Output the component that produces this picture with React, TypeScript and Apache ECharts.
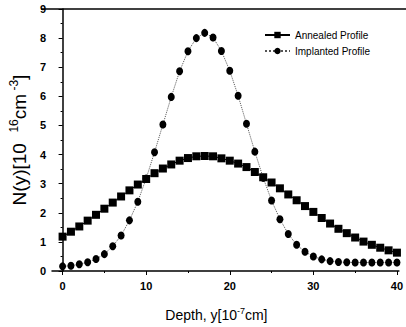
import React, { useEffect, useRef } from "react";
import * as echarts from "echarts";

const depths = [0,1,2,3,4,5,6,7,8,9,10,11,12,13,14,15,16,17,18,19,20,21,22,23,24,25,26,27,28,29,30,31,32,33,34,35,36,37,38,39,40];
const annealed = [1.18,1.35,1.53,1.73,1.93,2.14,2.35,2.56,2.77,2.97,3.16,3.36,3.52,3.66,3.79,3.88,3.94,3.95,3.94,3.87,3.79,3.69,3.57,3.4,3.22,3.04,2.84,2.63,2.43,2.23,2.03,1.82,1.63,1.45,1.3,1.15,1.01,0.9,0.8,0.71,0.63];
const implanted = [0.16,0.18,0.23,0.3,0.41,0.58,0.85,1.22,1.74,2.38,3.18,4.08,5.03,5.98,6.86,7.55,8.0,8.18,8.02,7.56,6.88,6.02,5.06,4.1,3.2,2.42,1.78,1.27,0.9,0.66,0.5,0.4,0.34,0.31,0.3,0.29,0.29,0.29,0.29,0.29,0.29];
const xMajorTicks = [0, 10, 20, 30, 40];
const xMinorTicks = [5, 15, 25, 35];
const seriesNames = ["Annealed Profile", "Implanted Profile"];

const FONT = "Liberation Sans, Arial, sans-serif";

export default function App() {
  const ref = useRef<HTMLDivElement>(null);
  useEffect(() => {
    if (!ref.current) return;
    const chart = echarts.init(ref.current, null, { renderer: "svg" });
    const xMin = -1.264;
    const xMax = 40.23;
    const tickLabel = { color: "#000", fontSize: 11, fontWeight: "bold", fontFamily: FONT };
    chart.setOption({
      animation: false,
      backgroundColor: "#fff",
      grid: { left: 41, right: 4, top: 9, bottom: 54 },
      legend: {
        orient: "vertical",
        left: 259,
        top: 25,
        itemWidth: 25,
        itemHeight: 8,
        itemGap: 6,
        textStyle: { fontSize: 10, color: "#000", fontFamily: FONT },
        data: seriesNames,
      },
      graphic: [
        {
          type: "line",
          shape: { x1: 41, y1: 9, x2: 406, y2: 9 },
          style: { stroke: "#000", lineWidth: 1.5 },
        },
      ],
      xAxis: [
        {
          type: "value",
          min: xMin,
          max: xMax,
          position: "bottom",
          axisLine: { show: true, onZero: false, lineStyle: { color: "#000", width: 1.5 } },
          axisTick: { show: true, customValues: xMajorTicks, length: 4, lineStyle: { color: "#000" } },
          axisLabel: { show: true, customValues: xMajorTicks, margin: 9, ...tickLabel },
          splitLine: { show: false },
          name: "{b|Depth, y[10}{s|-7}{b|cm]}",
          nameLocation: "middle",
          nameGap: 35,
          nameTextStyle: {
            padding: [0, 18, 0, 0],
            rich: {
              b: { fontSize: 14, fontFamily: FONT, color: "#000", lineHeight: 16, verticalAlign: "bottom" },
              s: { fontSize: 9, fontFamily: FONT, color: "#000", lineHeight: 16, verticalAlign: "top" },
            },
          },
        },
        {
          type: "value",
          min: xMin,
          max: xMax,
          position: "bottom",
          axisLine: { show: false, onZero: false },
          axisTick: { show: true, customValues: xMinorTicks, length: 2, lineStyle: { color: "#000" } },
          axisLabel: { show: false },
          splitLine: { show: false },
        },
      ],
      yAxis: {
        type: "value",
        min: 0,
        max: 9,
        interval: 1,
        axisLine: { show: true, lineStyle: { color: "#000", width: 1.5 } },
        axisTick: { show: true, length: 4, lineStyle: { color: "#000" } },
        minorTick: { show: true, splitNumber: 2, length: 2, lineStyle: { color: "#000" } },
        axisLabel: { margin: 6, ...tickLabel },
        splitLine: { show: false },
        name: "{b|N(y)[10  }{s|16}{b|cm}{s| -3}{b|]}",
        nameLocation: "middle",
        nameGap: 14,
        nameRotate: 90,
        nameTextStyle: {
          rich: {
            b: { fontSize: 19, fontFamily: FONT, color: "#000", lineHeight: 21, verticalAlign: "bottom" },
            s: { fontSize: 12, fontFamily: FONT, color: "#000", lineHeight: 21, verticalAlign: "top" },
          },
        },
      },
      series: [
        {
          name: seriesNames[0],
          type: "line",
          xAxisIndex: 0,
          data: depths.map((d, i) => [d, annealed[i]]),
          symbol: "rect",
          symbolSize: 8,
          itemStyle: { color: "#000" },
          lineStyle: { color: "#000", width: 1, type: "solid" },
          z: 3,
        },
        {
          name: seriesNames[1],
          type: "line",
          xAxisIndex: 0,
          data: depths.map((d, i) => [d, implanted[i]]),
          symbol: "circle",
          symbolSize: [7, 8],
          itemStyle: { color: "#000" },
          lineStyle: { color: "#555", width: 1, type: "dotted" },
          z: 2,
        },
      ],
    });
    return () => chart.dispose();
  }, []);
  return <div ref={ref} style={{ position: "absolute", left: 0, top: 0, width: 406, height: 327 }} />;
}
